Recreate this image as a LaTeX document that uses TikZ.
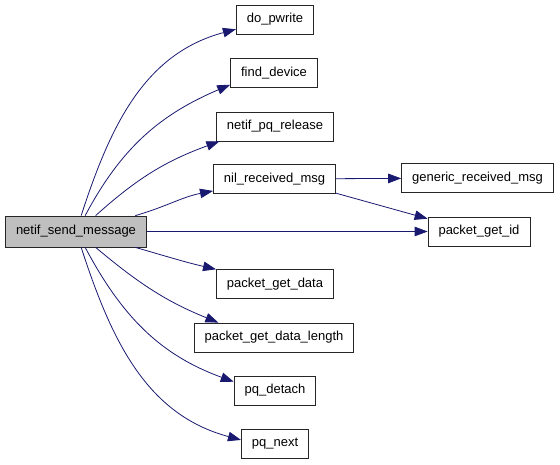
\documentclass[tikz,border=0pt]{standalone}
\usepackage{fontspec}
\setmainfont{Liberation Sans}
\usetikzlibrary{arrows.meta}
\definecolor{edgeblue}{HTML}{191970}
\definecolor{rootgray}{HTML}{BFBFBF}
\tikzset{
    fnode/.style={draw=black!85,fill=white,line width=0.8pt,minimum height=29pt,
        inner xsep=10.5pt,inner ysep=0pt,font=\fontsize{13}{15}\selectfont},
    rnode/.style={fnode,fill=rootgray,minimum height=31pt},
    callgraph/.style={
        every edge/.style={draw=edgeblue,line width=0.8pt,-{Triangle[length=13pt,width=9.5pt]}},
    }
}

\begin{document}
\begin{tikzpicture}[x=1pt,y=1pt,callgraph]
\useasboundingbox (0,0) rectangle (560,464);
\node[rnode] (send) at (76,232.5) {netif\_send\_message};
\node[fnode] (pwrite) at (275,444.5) {do\_pwrite};
\node[fnode] (finddev) at (274,391) {find\_device};
\node[fnode] (pqrel) at (275,337.5) {netif\_pq\_release};
\node[fnode] (nilrecv) at (274.5,285) {nil\_received\_msg};
\node[fnode] (genrecv) at (477.5,286) {generic\_received\_msg};
\node[fnode] (getid) at (479,232.5) {packet\_get\_id};
\node[fnode] (getdata) at (275,180) {packet\_get\_data};
\node[fnode] (getlen) at (274,126.5) {packet\_get\_data\_length};
\node[fnode] (detach) at (275,73.5) {pq\_detach};
\node[fnode] (pqnext) at (275,20.5) {pq\_next};
\path
    (send.72) edge[out=72,in=195] (pwrite.194)
    (send.60) edge[out=62,in=203] (finddev.195)
    (send.39) edge[out=42,in=200] (pqrel.195)
    (send.15) edge[out=16,in=191] (nilrecv.191)
    (send) edge (getid)
    (send.-15) edge[out=-16,in=167] (getdata.166)
    (send.-39) edge[out=-40,in=158] (getlen.165)
    (send.-60) edge[out=-62,in=160] (detach.168)
    (send.-72) edge[out=-72,in=165] (pqnext.174)
    (nilrecv) edge (genrecv)
    (nilrecv.-13) edge (getid.166)
;
\end{tikzpicture}
\end{document}
